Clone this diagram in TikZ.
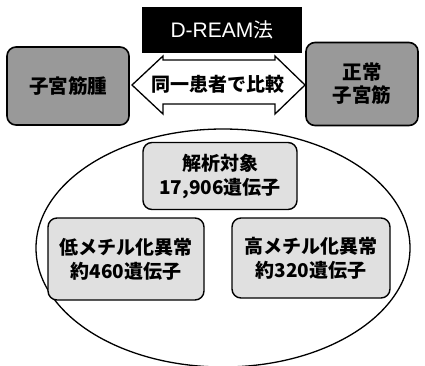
\documentclass[tikz,border=0pt]{standalone}
\usepackage{fontspec}
\setmainfont{Noto Sans CJK JP}
\newfontfamily\latinsans{Liberation Sans}
\usetikzlibrary{shapes.geometric}
\begin{document}
\begin{tikzpicture}[x=1pt,y=-1pt,
  sidebox/.style={draw=black, line width=1.6pt, fill=black!40, rounded corners=9pt, align=center, font=\fontsize{19.5}{23}\selectfont\bfseries},
  innerbox/.style={draw=black, line width=1.4pt, fill=black!12, rounded corners=9pt, align=center, font=\fontsize{19}{24}\selectfont\bfseries}]
\useasboundingbox (0,0) rectangle (425,365);
% ellipse
\node (ell) [draw, line width=1.3pt, ellipse, minimum width=374pt, minimum height=238pt] at (223,248) {};
% side boxes
\node (left) [sidebox, minimum width=122pt, minimum height=78pt] at (68,86) {子宮筋腫};
\node (right) [sidebox, minimum width=112pt, minimum height=83pt] at (362,84) {正常\\子宮筋};
% double arrow
\coordinate (lt) at (132,85);
\coordinate (rt) at (305,85);
\draw[line width=1.3pt, fill=white] (lt) -- (163,56) -- (163,60) -- (275,60) -- (275,56) -- (rt) -- (275,114) -- (275,104) -- (163,104) -- (163,114) -- cycle;
\node (cmp) at (218,84) {\fontsize{19}{22}\selectfont\bfseries 同一患者で比較};
% black title
\node (title) [fill=black, draw=black, minimum width=159pt, minimum height=45pt, text=white] at (222,30) {{\latinsans\fontsize{21}{24}\selectfont D-REAM}{\fontsize{20}{24}\selectfont 法}};
% inner boxes
\node (ana) [innerbox, minimum width=154pt, minimum height=67pt] at (220,176) {解析対象\\17,906遺伝子};
\node (low) [innerbox, minimum width=156pt, minimum height=82pt] at (126,259) {低メチル化異常\\約460遺伝子};
\node (high) [innerbox, minimum width=158pt, minimum height=80pt] at (311,258) {高メチル化異常\\約320遺伝子};
\end{tikzpicture}
\end{document}
